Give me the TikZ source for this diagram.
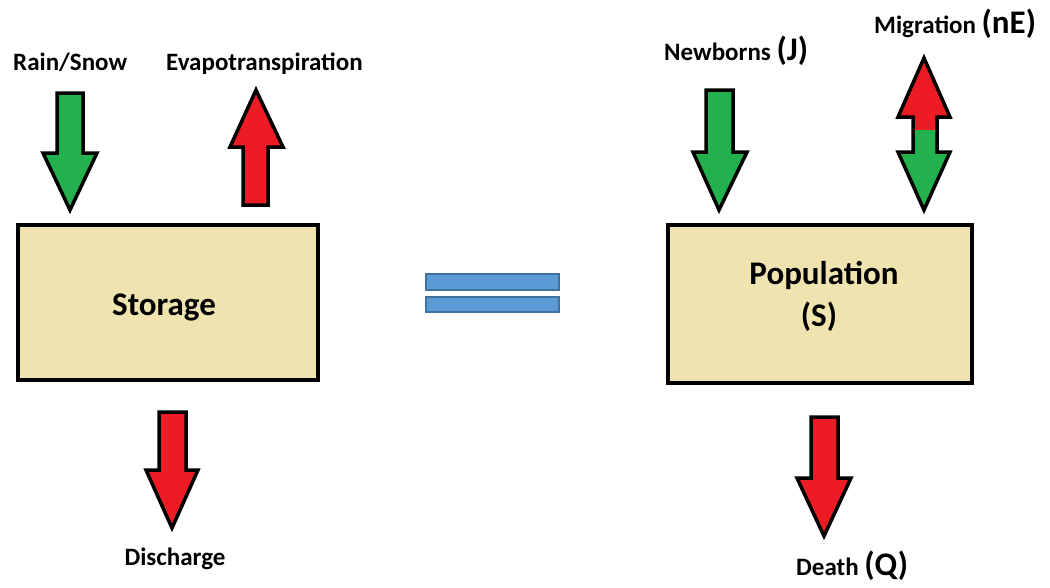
\documentclass[tikz,border=0pt]{standalone}
\usepackage{fontspec}
\setmainfont{Carlito}
\definecolor{pgreen}{HTML}{22B14C}
\definecolor{pred}{HTML}{ED1C24}
\definecolor{pbeige}{HTML}{EFE4B0}
\definecolor{pblue}{HTML}{5B9BD5}
\definecolor{pblueb}{HTML}{41719C}
\begin{document}
\begin{tikzpicture}[x=1pt,y=-1pt,
  arrowshape/.style={draw=black,line width=3.5pt,line join=miter},
  greenarrow/.style={arrowshape,fill=pgreen},
  redarrow/.style={arrowshape,fill=pred},
  storebox/.style={draw=black,line width=4pt,fill=pbeige},
  eqbar/.style={draw=pblueb,line width=2pt,fill=pblue},
  lbl/.style={font=\bfseries\fontsize{25}{28}\selectfont,inner sep=0pt,anchor=base west},
  big/.style={font=\bfseries\fontsize{33}{36}\selectfont,inner sep=0pt,anchor=base}]
\useasboundingbox (0,0) rectangle (1050,587);
% left side
\node[lbl] (rain) at (13,70) {Rain/Snow};
\node[lbl] (evap) at (166,70) {Evapotranspiration};
\draw[greenarrow] (57,93) -- (83,93) -- (83,153) -- (97,153) -- (70,210) -- (43,153) -- (57,153) -- cycle;
\draw[redarrow] (243,205) -- (268,205) -- (268,147) -- (283,147) -- (256,90) -- (230,147) -- (243,147) -- cycle;
\node[storebox,minimum width=300pt,minimum height=155pt,inner sep=0pt] (storage) at (168,302.5) {};
\node[big] (storagetxt) at (164,315) {Storage};
\draw[redarrow] (159,412) -- (186,412) -- (186,470) -- (198,470) -- (172,528) -- (146,470) -- (159,470) -- cycle;
\node[lbl,anchor=base] (dis) at (175,565) {Discharge};
% equals
\draw[eqbar] (426,274) rectangle (559,290);
\draw[eqbar] (426,297) rectangle (559,312);
% right side
\node[lbl] (newb) at (664,60) {Newborns {\fontsize{33}{36}\selectfont(J)}};
\node[lbl] (migr) at (874,33) {Migration {\fontsize{33}{36}\selectfont(nE)}};
\draw[greenarrow] (706,90) -- (733,90) -- (733,152) -- (747,152) -- (719,210) -- (693,152) -- (706,152) -- cycle;
\fill[pred] (913,130) -- (913,117) -- (898,117) -- (924,58) -- (950,117) -- (937,117) -- (937,130) -- cycle;
\fill[pgreen] (913,130) -- (937,130) -- (937,152) -- (950,152) -- (924,210) -- (898,152) -- (913,152) -- cycle;
\draw[arrowshape] (924,58) -- (950,117) -- (937,117) -- (937,152) -- (950,152) -- (924,210) -- (898,152) -- (913,152) -- (913,117) -- (898,117) -- cycle;
\node[storebox,minimum width=304pt,minimum height=158pt,inner sep=0pt] (pop) at (820,304) {};
\node[big] (poptxt) at (824,284) {Population};
\node[big] (stxt) at (819,326) {(S)};
\draw[redarrow] (811,417) -- (838,417) -- (838,478) -- (851,478) -- (824,536) -- (797,478) -- (811,478) -- cycle;
\node[lbl] (death) at (796,575) {Death {\fontsize{33}{36}\selectfont(Q)}};
\end{tikzpicture}
\end{document}
